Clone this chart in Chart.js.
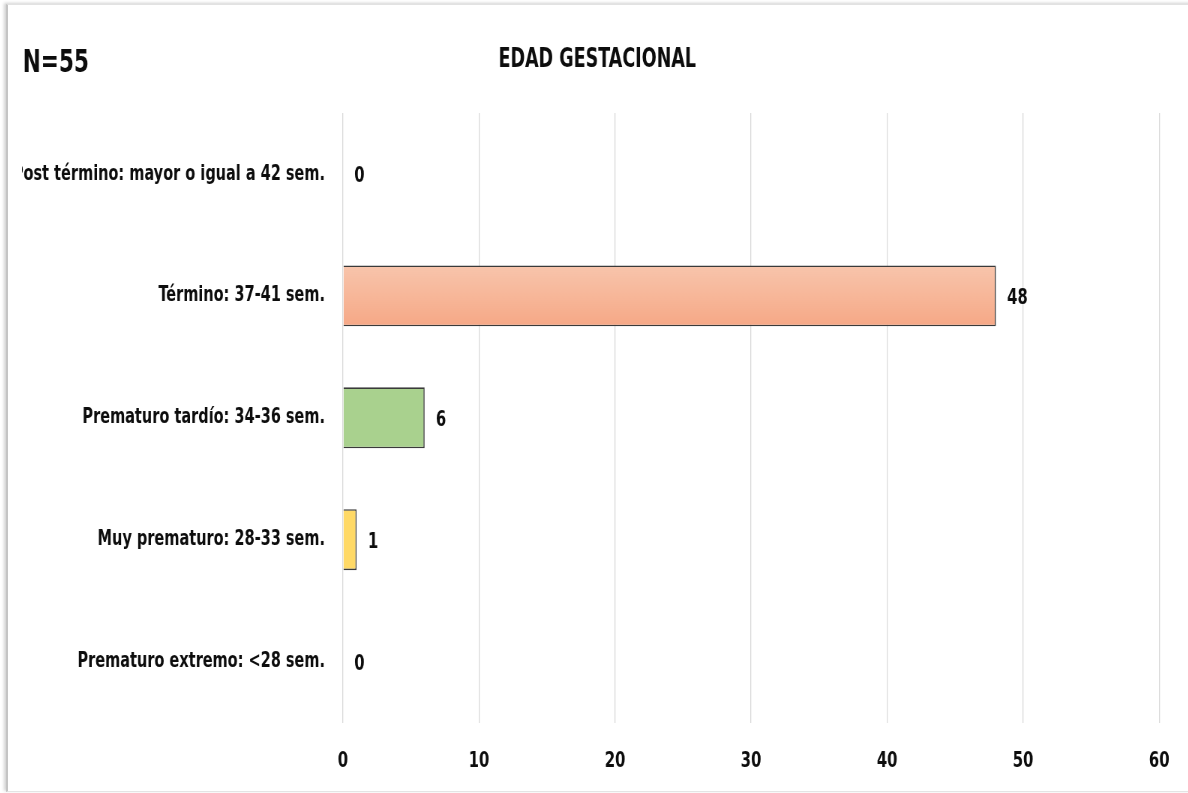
<!DOCTYPE html>
<html lang="es">
<head>
<meta charset="utf-8">
<title>Edad gestacional</title>
<script src="https://cdn.jsdelivr.net/npm/chart.js@4.4.1/dist/chart.umd.min.js"></script>
<style>
  html, body { margin: 0; padding: 0; background: #ffffff; }
  body { width: 1188px; height: 793px; position: relative; overflow: hidden; }
  .frame {
    position: absolute; left: 6px; top: 4px; width: 1200px; height: 786px;
    border-left: 2px solid #c4c4c4; border-top: 1px solid #e2e2e2; border-bottom: 1px solid #e4e4e4;
    box-shadow: -2px -1px 3px rgba(0,0,0,0.18);
    background: #ffffff;
  }
  .wrap { position: absolute; left: 22px; top: 0; width: 1166px; height: 793px; overflow: hidden; }
  /* the chart is drawn wide and squeezed horizontally, giving tall narrow lettering */
  #chart { display: block; transform: scaleX(0.75); transform-origin: 0 0; }
</style>
</head>
<body>
<div class="frame"></div>
<div class="wrap"><canvas id="chart" width="1555" height="793"></canvas></div>
<script>
// Gestational age at birth, N = 55
const categories = [
  'Post término: mayor o igual a 42 sem.',
  'Término: 37-41 sem.',
  'Prematuro tardío: 34-36 sem.',
  'Muy prematuro: 28-33 sem.',
  'Prematuro extremo: <28 sem.'
];
const counts = [0, 48, 6, 1, 0];
const xTicks = [0, 10, 20, 30, 40, 50, 60];
const sampleLabel = 'N=55';
const chartTitle = 'EDAD GESTACIONAL';

const barColors = ['#9DC3E6', '#F7AE8F', '#A9D18E', '#FFD966', '#8FAADC'];
const FONT = '"DejaVu Sans Condensed", "DejaVu Sans", sans-serif';
const TEXT = '#0d0d0d';

// Término bar gets a soft vertical peach gradient
function barFill(ctx) {
  const i = ctx.dataIndex;
  if (i !== 1) return barColors[i];
  const chart = ctx.chart;
  const y = chart.scales.y;
  if (!y || !chart.chartArea) return barColors[i];
  const center = y.getPixelForValue(i);
  const half = y.height / categories.length * 0.5 / 2;
  const g = chart.ctx.createLinearGradient(0, center - half, 0, center + half);
  g.addColorStop(0, '#F8C5AC');
  g.addColorStop(1, '#F6A886');
  return g;
}

// Headline text: sample size at left, title centred
const headerPlugin = {
  id: 'header',
  afterDraw(chart) {
    const c = chart.ctx;
    c.save();
    c.fillStyle = TEXT;
    c.textBaseline = 'alphabetic';
    c.textAlign = 'left';
    c.font = 'bold 32px ' + FONT;
    c.fillText(sampleLabel, 1, 72);
    c.textAlign = 'center';
    c.font = 'bold 26px ' + FONT;
    c.fillText(chartTitle, 767, 67);
    c.restore();
  }
};

// Value printed just past the end of each bar
const valueLabels = {
  id: 'valueLabels',
  afterDatasetsDraw(chart) {
    const c = chart.ctx;
    const meta = chart.getDatasetMeta(0);
    c.save();
    c.fillStyle = TEXT;
    c.font = 'bold 22px ' + FONT;
    c.textAlign = 'left';
    c.textBaseline = 'middle';
    meta.data.forEach((el, i) => {
      c.fillText(String(counts[i]), el.x + 15, el.y + 2.5);
    });
    c.restore();
  }
};

new Chart(document.getElementById('chart'), {
  type: 'bar',
  data: {
    labels: categories,
    datasets: [{
      data: counts,
      backgroundColor: barFill,
      borderColor: '#3a3a3a',
      borderWidth: 1.6,
      borderSkipped: 'start',
      categoryPercentage: 1.0,
      barPercentage: 0.5
    }]
  },
  options: {
    indexAxis: 'y',
    responsive: false,
    animation: false,
    devicePixelRatio: 1,
    layout: { padding: { top: 113, bottom: -6, right: 21, left: 0 } },
    plugins: {
      legend: { display: false },
      tooltip: { enabled: false },
      title: { display: false }
    },
    scales: {
      x: {
        min: 0,
        max: 60,
        afterBuildTicks(scale) { scale.ticks = xTicks.map(v => ({ value: v })); },
        grid: { color: '#d9d9d9', lineWidth: 1.3, drawTicks: false },
        border: { display: false },
        ticks: {
          padding: 25,
          color: TEXT,
          font: { family: FONT, size: 22, weight: 'bold' },
          maxRotation: 0
        }
      },
      y: {
        grid: { display: false, drawTicks: false },
        border: { display: false },
        afterFit(scale) { scale.width = 428; },
        ticks: {
          padding: 24,
          color: TEXT,
          font: { family: FONT, size: 21.5, weight: 'bold' },
          autoSkip: false
        }
      }
    }
  },
  plugins: [headerPlugin, valueLabels]
});
</script>
</body>
</html>
